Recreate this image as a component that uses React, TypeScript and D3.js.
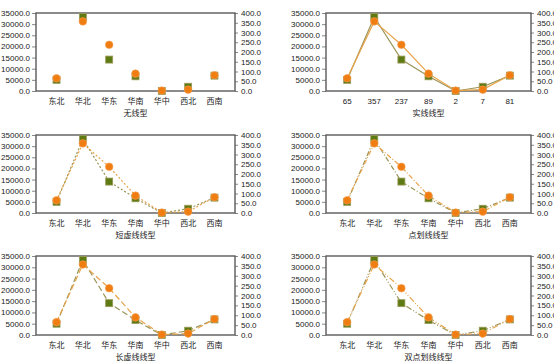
import React, { useEffect, useRef } from "react";
import * as d3 from "d3";

const regions = ["东北", "华北", "华东", "华南", "华中", "西北", "西南"];
const solidLabels = ["65", "357", "237", "89", "2", "7", "81"];
const leftValues = [5000, 33200, 14100, 6600, 0, 1900, 6900];
const rightValues = [65, 357, 237, 89, 2, 7, 81];
const leftTicks = [0, 5000, 10000, 15000, 20000, 25000, 30000, 35000];
const rightTicks = [0, 50, 100, 150, 200, 250, 300, 350, 400];
const titles = ["无线型", "实线线型", "短虚线线型", "点划线线型", "长虚线线型", "双点划线线型"];
const dashes = [null, "", "2,2", "5,2,1,2", "6,3", "6,2,1,2,1,2"];

const NUMFONT = "'Liberation Sans', Arial, sans-serif";
const CJKFONT = "'Noto Sans CJK SC', sans-serif";

export default function App() {
  const ref = useRef<SVGSVGElement>(null);

  useEffect(() => {
    const svg = d3.select(ref.current);
    svg.selectAll("*").remove();

    const cols = [
      { x0: 36, x1: 235 },
      { x0: 326, x1: 531 },
    ];
    const rows = [
      { y0: 13, y1: 91 },
      { y0: 135, y1: 213 },
      { y0: 256, y1: 335 },
    ];

    titles.forEach((title, i) => {
      const c = cols[i % 2];
      const r = rows[Math.floor(i / 2)];
      const labels = i === 1 ? solidLabels : regions;

      const x = d3.scalePoint<number>().domain(d3.range(regions.length)).range([c.x0, c.x1]).padding(0.78);
      const yL = d3.scaleLinear().domain([0, 35000]).range([r.y1, r.y0]);
      const yR = d3.scaleLinear().domain([0, 400]).range([r.y1, r.y0]);

      const g = svg.append("g");

      // left axis
      const la = g.append("g").attr("transform", `translate(${c.x0},0)`)
        .call(d3.axisLeft(yL).tickValues(leftTicks).tickSize(4).tickPadding(2).tickFormat(d => (+d).toFixed(1)));
      la.select(".domain").remove();
      la.selectAll("line").attr("stroke", "#888");
      la.selectAll("text").attr("font-family", NUMFONT).attr("font-size", 8).attr("fill", "#222");

      // right axis
      const ra = g.append("g").attr("transform", `translate(${c.x1},0)`)
        .call(d3.axisRight(yR).tickValues(rightTicks).tickSize(3).tickPadding(3).tickFormat(d => (+d).toFixed(1)));
      ra.select(".domain").remove();
      ra.selectAll("line").attr("stroke", "#888");
      ra.selectAll("text").attr("font-family", NUMFONT).attr("font-size", 8).attr("fill", "#222");

      // frame
      g.append("rect")
        .attr("x", c.x0).attr("y", r.y0)
        .attr("width", c.x1 - c.x0).attr("height", r.y1 - r.y0)
        .attr("fill", "none").attr("stroke", "#5a5a5a").attr("stroke-width", 1.4);

      // category labels
      g.selectAll(".xl").data(labels).enter().append("text")
        .attr("x", (_, j) => x(j)!)
        .attr("y", r.y1 + 13)
        .attr("text-anchor", "middle")
        .attr("font-family", i === 1 ? NUMFONT : CJKFONT).attr("font-size", 8).attr("fill", "#222")
        .text(d => d);

      g.append("text")
        .attr("x", (c.x0 + c.x1) / 2)
        .attr("y", r.y1 + 25)
        .attr("text-anchor", "middle")
        .attr("font-family", CJKFONT).attr("font-size", 8).attr("fill", "#222")
        .text(title);

      const dash = dashes[i];
      if (dash !== null) {
        const lineL = d3.line<number>().x((_, j) => x(j)!).y(d => yL(d));
        const lineR = d3.line<number>().x((_, j) => x(j)!).y(d => yR(d));
        g.append("path").attr("d", lineL(leftValues)!)
          .attr("fill", "none").attr("stroke", "#9a9458").attr("stroke-width", 1.2)
          .attr("stroke-dasharray", dash);
        g.append("path").attr("d", lineR(rightValues)!)
          .attr("fill", "none").attr("stroke", "#e8a44a").attr("stroke-width", 1.2)
          .attr("stroke-dasharray", dash);
      }

      g.selectAll(".sq").data(leftValues).enter().append("rect")
        .attr("x", (_, j) => x(j)! - 3.5)
        .attr("y", d => yL(d) - 3.5)
        .attr("width", 7).attr("height", 7)
        .attr("fill", "#5e7a12").attr("stroke", "#9a9a5a").attr("stroke-width", 0.8);

      g.selectAll(".ci").data(rightValues).enter().append("circle")
        .attr("cx", (_, j) => x(j)!)
        .attr("cy", d => yR(d))
        .attr("r", 3.8)
        .attr("fill", "#f07d12").attr("stroke", "#f5a050").attr("stroke-width", 0.6);
    });
  }, []);

  return (
    <svg ref={ref} width={554} height={363}
      style={{ position: "absolute", left: 0, top: 0, background: "#fff", display: "block" }} />
  );
}
